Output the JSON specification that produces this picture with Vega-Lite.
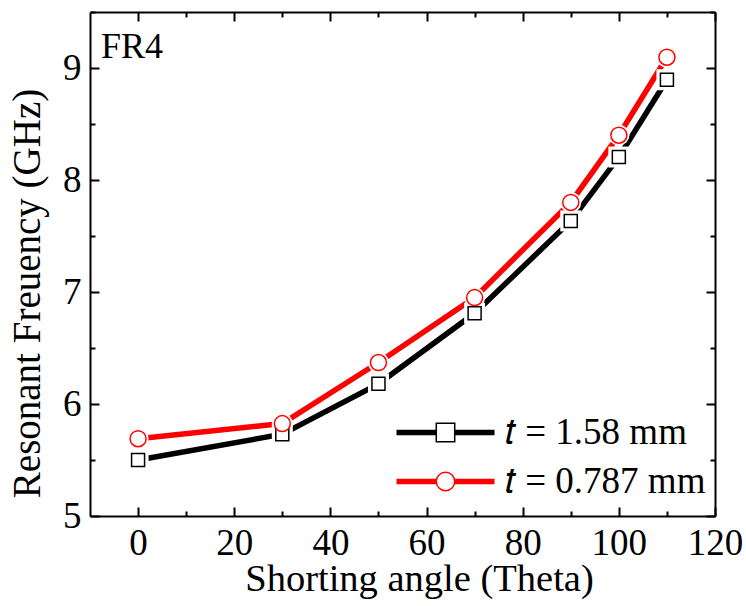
{
  "$schema": "https://vega.github.io/schema/vega-lite/v6.json",
  "width": 625,
  "height": 504,
  "autosize": "none",
  "padding": {"left": 90, "top": 12, "right": 31, "bottom": 90},
  "background": "white",
  "config": {"view": {"stroke": null}, "font": "Liberation Serif"},
  "title": {"text": "FR4", "anchor": "start", "frame": "group", "orient": "top", "offset": -47, "dy": 54, "baseline": "alphabetic", "font": "Liberation Serif", "fontSize": 36, "fontWeight": "normal", "color": "black", "dx": 11},
  "data": {"values": [
    {"angle": 0, "freq": 5.50, "series": "𝑡 = 1.58 mm"},
    {"angle": 30, "freq": 5.73, "series": "𝑡 = 1.58 mm"},
    {"angle": 50, "freq": 6.18, "series": "𝑡 = 1.58 mm"},
    {"angle": 70, "freq": 6.81, "series": "𝑡 = 1.58 mm"},
    {"angle": 90, "freq": 7.635, "series": "𝑡 = 1.58 mm"},
    {"angle": 100, "freq": 8.205, "series": "𝑡 = 1.58 mm"},
    {"angle": 110, "freq": 8.895, "series": "𝑡 = 1.58 mm"},
    {"angle": 0, "freq": 5.69, "series": "𝑡 = 0.787 mm"},
    {"angle": 30, "freq": 5.825, "series": "𝑡 = 0.787 mm"},
    {"angle": 50, "freq": 6.37, "series": "𝑡 = 0.787 mm"},
    {"angle": 70, "freq": 6.95, "series": "𝑡 = 0.787 mm"},
    {"angle": 90, "freq": 7.80, "series": "𝑡 = 0.787 mm"},
    {"angle": 100, "freq": 8.40, "series": "𝑡 = 0.787 mm"},
    {"angle": 110, "freq": 9.096, "series": "𝑡 = 0.787 mm"}
  ]},
  "layer": [
    {
      "mark": {"type": "line", "strokeWidth": 5.5, "clip": true},
      "encoding": {
        "x": {"field": "angle", "type": "quantitative", "scale": {"domain": [-10, 120], "nice": false, "zero": false},
          "axis": {"orient": "bottom", "values": [0,10,20,30,40,50,60,70,80,90,100,110,120],
            "labelExpr": "datum.value % 20 === 0 ? datum.label : ''",
            "tickSize": {"condition": {"test": "datum.value % 20 === 0", "value": -9}, "value": -5},
            "tickWidth": 2, "tickColor": "black", "domainColor": "black", "domainWidth": 2,
            "labelFont": "Liberation Serif", "labelFontSize": 37, "labelColor": "black", "labelPadding": 18,
            "labelFlush": false, "labelOverlap": false, "grid": false,
            "title": "Shorting angle (Theta)", "titleFont": "Liberation Serif", "titleFontSize": 38.5, "titleFontWeight": "normal", "titleColor": "black",
            "titleX": 329, "titleY": 74, "titleBaseline": "alphabetic", "titleAlign": "center"}},
        "y": {"field": "freq", "type": "quantitative", "scale": {"domain": [5, 9.5], "nice": false, "zero": false},
          "axis": {"orient": "left", "values": [5,5.5,6,6.5,7,7.5,8,8.5,9,9.5], "format": "~g",
            "labelExpr": "datum.value % 1 === 0 ? datum.label : ''",
            "tickSize": {"condition": {"test": "datum.value % 1 === 0", "value": -9}, "value": -5},
            "tickWidth": 2, "tickColor": "black", "domainColor": "black", "domainWidth": 2,
            "labelFont": "Liberation Serif", "labelFontSize": 37, "labelColor": "black", "labelPadding": 18,
            "labelFlush": false, "labelOverlap": false, "grid": false,
            "title": "Resonant Freuency (GHz)", "titleFont": "Liberation Serif", "titleFontSize": 39, "titleFontWeight": "normal", "titleColor": "black",
            "titleX": -51, "titleY": 281, "titleAngle": -90, "titleBaseline": "alphabetic", "titleAlign": "center"}},
        "color": {"field": "series", "type": "nominal",
          "scale": {"domain": ["𝑡 = 1.58 mm", "𝑡 = 0.787 mm"], "range": ["black", "#ff0000"]},
          "legend": {"orient": "none", "legendX": 337, "legendY": 402, "title": null, "symbolType": "M-4.9,0H4.9", "symbolSize": 400, "symbolStrokeWidth": 5.5,
            "labelFont": "Liberation Serif", "labelFontSize": 37, "labelColor": "black", "labelOffset": 41, "labelLimit": 400, "rowPadding": 11, "padding": 0}}
      }
    },
    {
      "mark": {"type": "point", "filled": true, "fill": "white", "opacity": 1, "size": 441},
      "encoding": {
        "x": {"field": "angle", "type": "quantitative", "axis": null},
        "y": {"field": "freq", "type": "quantitative", "axis": null},
        "shape": {"field": "series", "type": "nominal", "sort": ["𝑡 = 1.58 mm", "𝑡 = 0.787 mm"], "scale": {"range": ["square", "circle"]}, "legend": null}
      }
    },
    {
      "mark": {"type": "point", "filled": false, "fill": "white", "fillOpacity": 1, "opacity": 1, "strokeWidth": 1.5},
      "encoding": {
        "x": {"field": "angle", "type": "quantitative",
          "axis": {"orient": "top", "values": [0,10,20,30,40,50,60,70,80,90,100,110,120], "labels": false, "title": null,
            "tickSize": {"condition": {"test": "datum.value % 20 === 0", "value": -9}, "value": -5},
            "tickWidth": 2, "tickColor": "black", "domainColor": "black", "domainWidth": 2, "grid": false}},
        "y": {"field": "freq", "type": "quantitative",
          "axis": {"orient": "right", "values": [5,5.5,6,6.5,7,7.5,8,8.5,9,9.5], "labels": false, "title": null,
            "tickSize": {"condition": {"test": "datum.value % 1 === 0", "value": -9}, "value": -5},
            "tickWidth": 2, "tickColor": "black", "domainColor": "black", "domainWidth": 2, "grid": false}},
        "shape": {"field": "series", "type": "nominal", "sort": ["𝑡 = 1.58 mm", "𝑡 = 0.787 mm"], "scale": {"range": ["square", "circle"]}, "legend": null},
        "stroke": {"field": "series", "type": "nominal", "sort": ["𝑡 = 1.58 mm", "𝑡 = 0.787 mm"], "scale": {"range": ["black", "#ff0000"]},
          "legend": {"orient": "none", "legendX": 337, "legendY": 402, "title": null, "symbolSize": 340, "symbolFillColor": "white", "symbolStrokeWidth": 1.5,
            "symbolType": {"expr": "datum.index === 0 ? 'square' : 'circle'"},
            "labelFont": "Liberation Serif", "labelFontSize": 37, "labelOpacity": 0, "labelOffset": 41, "labelLimit": 400, "rowPadding": 11, "padding": 0}},
        "size": {"field": "series", "type": "nominal", "sort": ["𝑡 = 1.58 mm", "𝑡 = 0.787 mm"], "scale": {"range": [169, 256]}, "legend": null}
      }
    }
  ],
  "resolve": {"axis": {"x": "independent", "y": "independent"}}
}
